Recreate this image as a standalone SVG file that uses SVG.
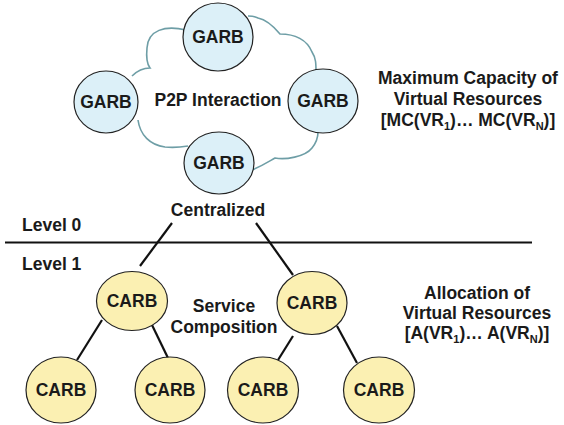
<svg xmlns="http://www.w3.org/2000/svg" width="564" height="425" viewBox="0 0 564 425">
<style>
text{font-family:"Liberation Sans",Arial,sans-serif;font-weight:bold;font-size:17.5px;fill:#1a1a1a}
.c{text-anchor:middle}
.garb{fill:#dcf0f8;stroke:#222;stroke-width:1.2}
.carb{fill:#fbf0b2;stroke:#222;stroke-width:1.2}
.cloud{fill:none;stroke:#6e9ea6;stroke-width:1.6}
.ln{stroke:#111;stroke-width:2.2;fill:none}
.sub{font-size:11px}
</style>
<g id="cloud">
<path class="cloud" d="M186,30 C165,25 148,30 147,48 C146,58 147,64 150,68 C143,68 137,71 132,76"/>
<path class="cloud" d="M138,120 C140,135 150,145 165,147 C175,148 182,147 188,146"/>
<path class="cloud" d="M252,170 C262,166 268,162 275,158 C285,160 305,157 312,148 C316,143 318,138 318,132"/>
<path class="cloud" d="M316,72 C316,64 316,58 312,52 C307,40 295,34 280,34 C275,28 268,20 258,18 C254,16 250,16 248,16"/>
</g>
<g id="connectors">
<line class="ln" x1="5" y1="242.5" x2="532" y2="242.5"/>
<line class="ln" x1="172" y1="223" x2="140" y2="266"/>
<line class="ln" x1="256" y1="223" x2="293" y2="275"/>
<line class="ln" x1="102" y1="320" x2="77" y2="360"/>
<line class="ln" x1="152" y1="325" x2="168" y2="358"/>
<line class="ln" x1="293" y1="336" x2="278" y2="360"/>
<line class="ln" x1="337" y1="326" x2="357" y2="363"/>
</g>
<g id="garb-top"><ellipse class="garb" cx="218" cy="37" rx="35" ry="34"/><text class="c" x="218" y="43">GARB</text></g>
<g id="garb-left"><ellipse class="garb" cx="106" cy="102" rx="32" ry="31"/><text class="c" x="106" y="108">GARB</text></g>
<g id="garb-right"><ellipse class="garb" cx="323" cy="101" rx="35" ry="32"/><text class="c" x="323" y="107">GARB</text></g>
<g id="garb-bottom"><ellipse class="garb" cx="219" cy="163" rx="35" ry="31"/><text class="c" x="219" y="169">GARB</text></g>
<g id="p2p"><text class="c" x="218" y="106">P2P Interaction</text></g>
<g id="centralized"><text class="c" x="218" y="216">Centralized</text></g>
<g id="level0"><text x="22" y="231">Level 0</text></g>
<g id="level1"><text x="22" y="270">Level 1</text></g>
<g id="carb-l"><ellipse class="carb" cx="132" cy="301" rx="35.5" ry="29.5"/><text class="c" x="132" y="307">CARB</text></g>
<g id="carb-r"><ellipse class="carb" cx="312" cy="303" rx="35" ry="31.5"/><text class="c" x="312" y="309">CARB</text></g>
<g id="carb-ll"><ellipse class="carb" cx="61" cy="390" rx="35" ry="33"/><text class="c" x="61" y="396">CARB</text></g>
<g id="carb-lr"><ellipse class="carb" cx="170" cy="390" rx="35" ry="33"/><text class="c" x="170" y="396">CARB</text></g>
<g id="carb-rl"><ellipse class="carb" cx="263" cy="390" rx="35.5" ry="33"/><text class="c" x="263" y="396">CARB</text></g>
<g id="carb-rr"><ellipse class="carb" cx="379" cy="390" rx="35.5" ry="33"/><text class="c" x="379" y="396">CARB</text></g>
<g id="service"><text class="c" x="224" y="312">Service</text><text class="c" x="224" y="333">Composition</text></g>
<g id="maxcap">
<text class="c" x="468" y="84">Maximum Capacity of</text>
<text class="c" x="468" y="105">Virtual Resources</text>
<text class="c" x="468" y="126">[MC(VR<tspan class="sub" dy="4">1</tspan><tspan dy="-4">)… MC(VR</tspan><tspan class="sub" dy="4">N</tspan><tspan dy="-4">)]</tspan></text>
</g>
<g id="alloc">
<text class="c" x="477" y="299">Allocation of</text>
<text class="c" x="477" y="319">Virtual Resources</text>
<text class="c" x="477" y="339">[A(VR<tspan class="sub" dy="4">1</tspan><tspan dy="-4">)… A(VR</tspan><tspan class="sub" dy="4">N</tspan><tspan dy="-4">)]</tspan></text>
</g>
</svg>
